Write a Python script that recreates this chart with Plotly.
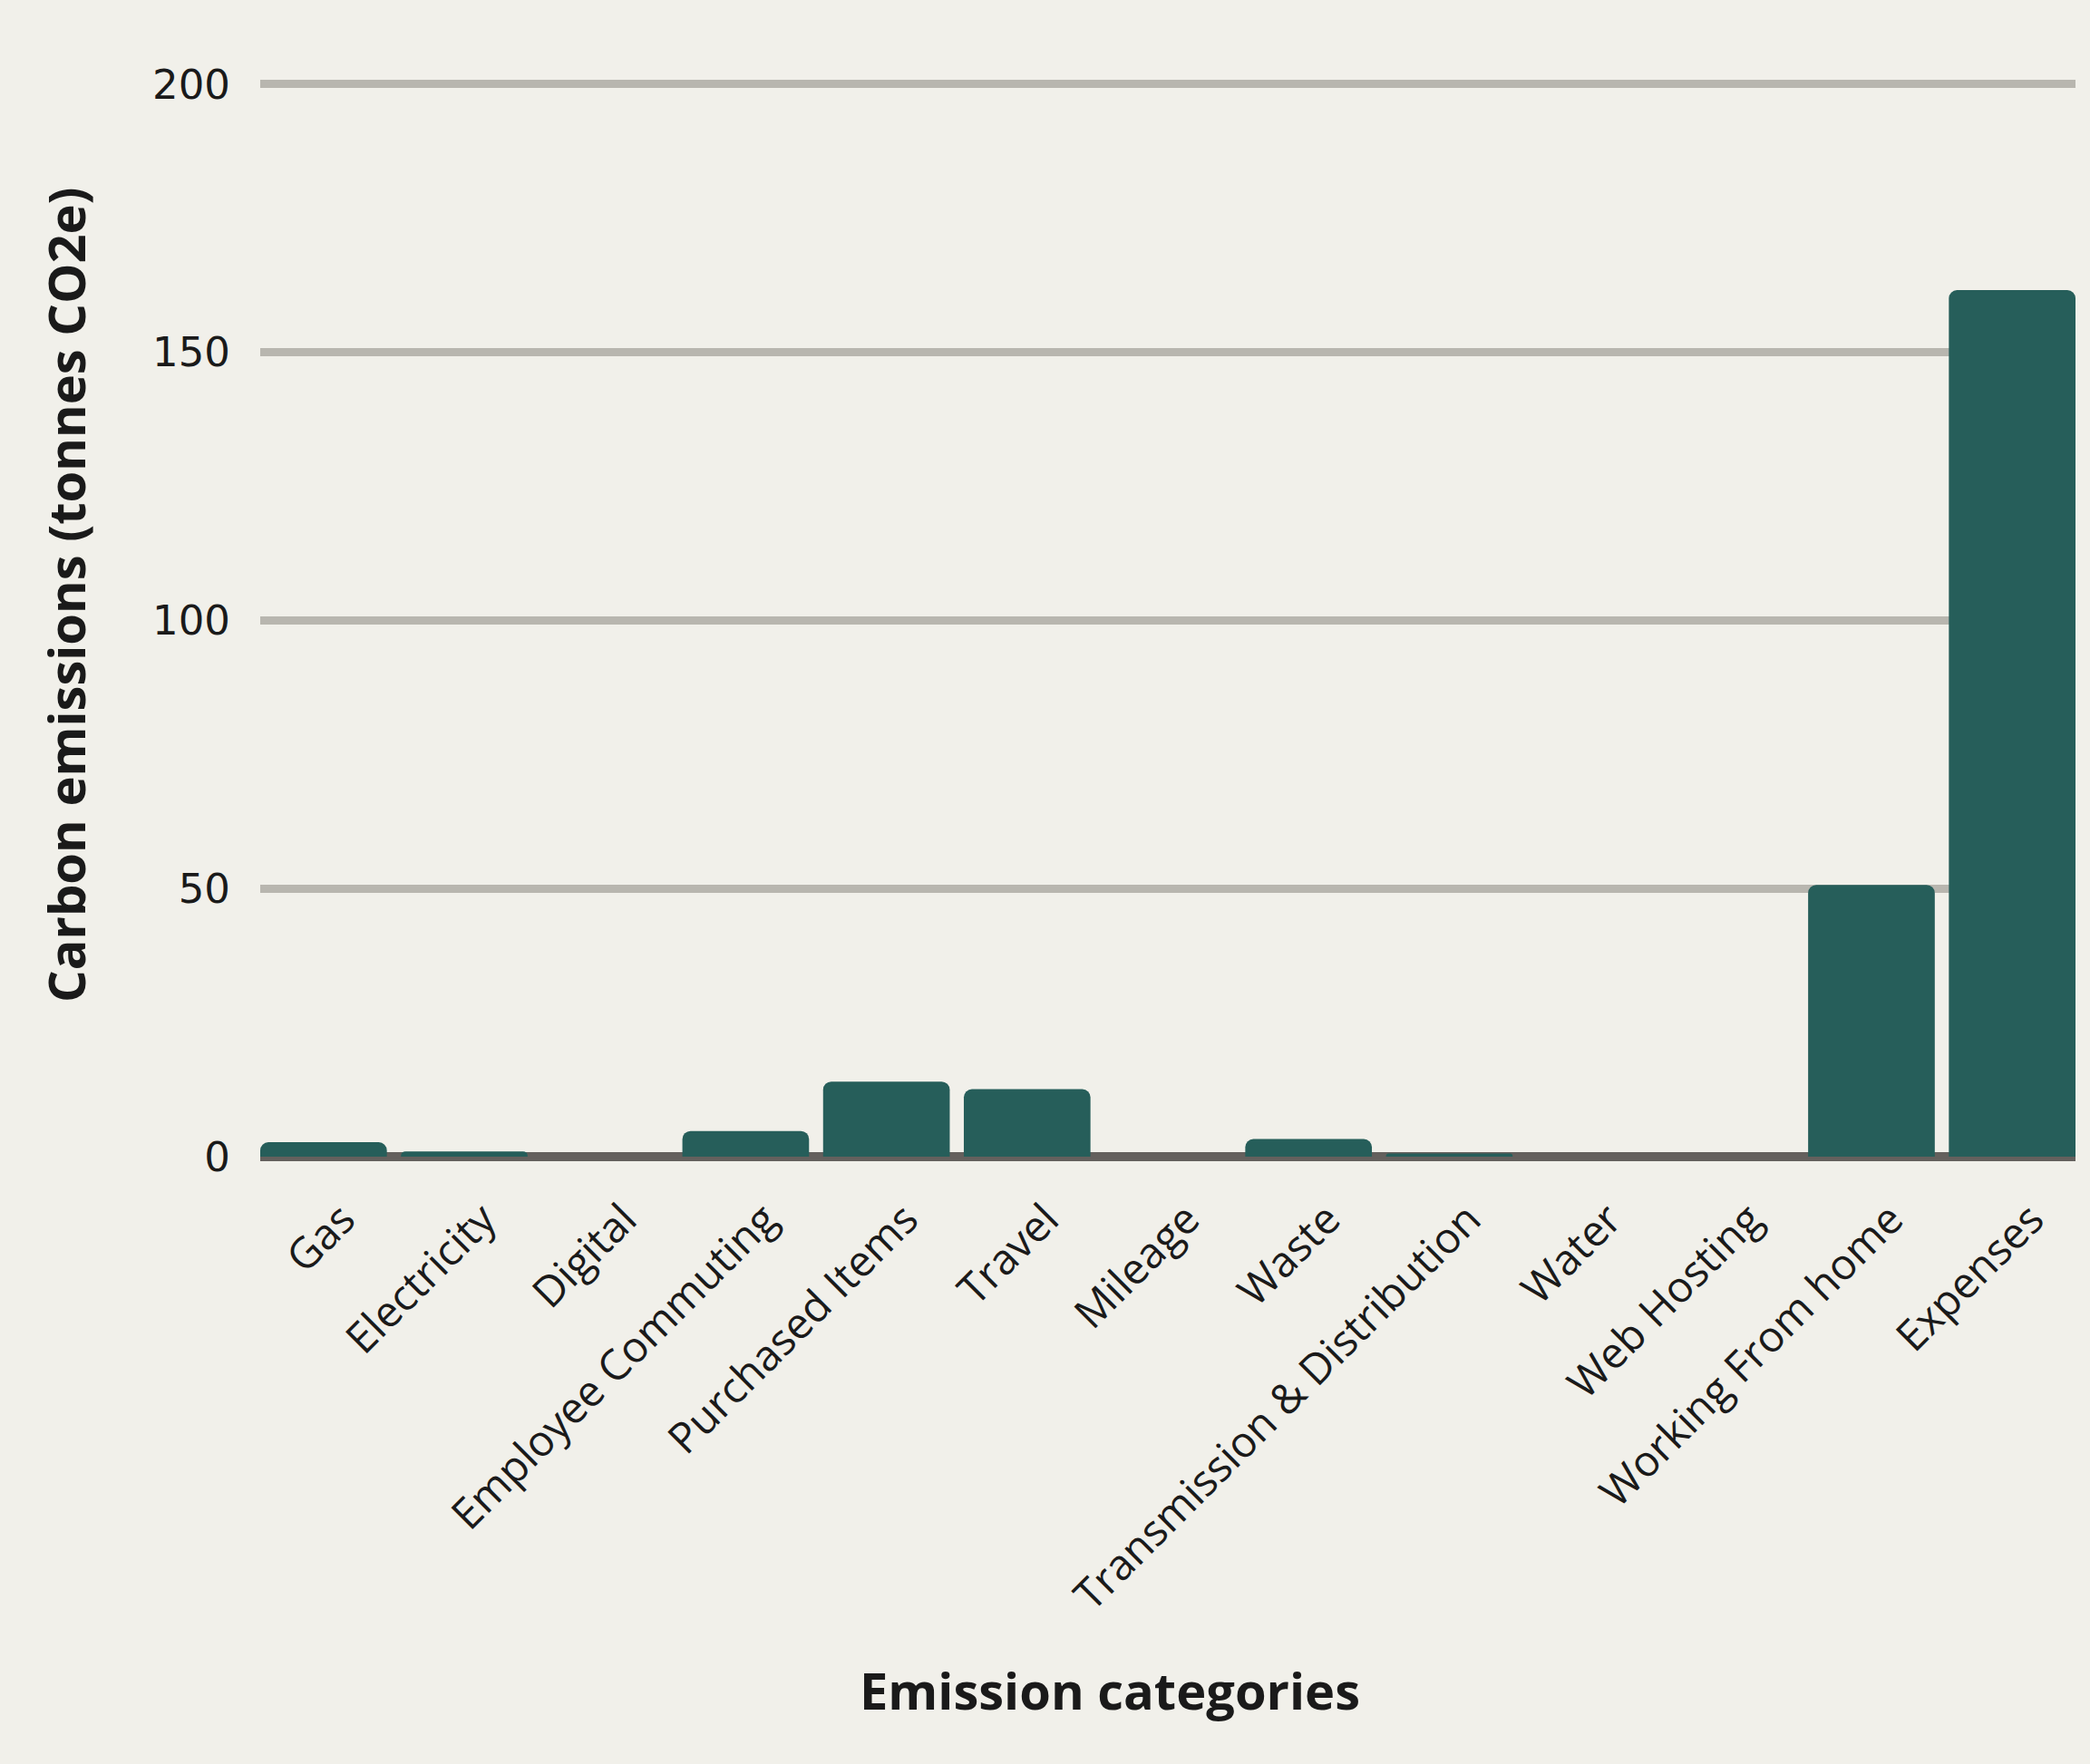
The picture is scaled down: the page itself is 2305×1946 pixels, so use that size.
import plotly.graph_objects as go

# Emission categories and their footprint (tonnes CO2e)
categories = [
    "Gas", "Electricity", "Digital", "Employee Commuting", "Purchased Items",
    "Travel", "Mileage", "Waste", "Transmission & Distribution", "Water",
    "Web Hosting", "Working From home", "Expenses",
]
emissions = [2.7, 1.0, 0, 4.8, 14.0, 12.6, 0, 3.3, 0.6, 0, 0, 50.7, 161.6]
y_ticks = [0, 50, 100, 150, 200]

BG = "#F1F0EA"
BAR = "#265E5A"
GRID = "#B8B6AF"
ZERO = "#64605D"
TEXT = "#1A1A1A"
FONT = "Open Sans"

W, H = 2305, 1946
L, R, T, B = 287, 16, 90, 667

fig = go.Figure(
    go.Bar(
        x=categories,
        y=emissions,
        marker=dict(color=BAR, cornerradius=9, line=dict(width=0)),
        hoverinfo="x+y",
    )
)

fig.update_layout(
    width=W,
    height=H,
    paper_bgcolor=BG,
    plot_bgcolor=BG,
    margin=dict(l=L, r=R, t=T, b=B, autoexpand=False),
    bargap=0.1,
    showlegend=False,
    font=dict(family=FONT, color=TEXT, size=44),
)

fig.update_xaxes(
    type="category",
    range=[-0.45, len(categories) - 0.55],
    tickangle=-45,
    tickfont=dict(size=47, color=TEXT),
    ticklabelstandoff=28,
    ticklabelshift=21,
    showgrid=False,
    showline=False,
    ticks="",
    automargin=False,
)

fig.update_yaxes(
    range=[-0.5, 200.5],
    tickvals=y_ticks,
    tickfont=dict(family="DejaVu Sans", size=45, color=TEXT),
    ticklabelstandoff=32,
    showgrid=True,
    gridcolor=GRID,
    gridwidth=9,
    zeroline=True,
    zerolinecolor=ZERO,
    zerolinewidth=10,
    showline=False,
    ticks="",
    automargin=False,
)

plot_h = H - T - B
plot_w = W - L - R
bottom_px = H - B

# Axis titles placed as annotations for precise positioning
fig.add_annotation(
    text="<b>Emission categories</b>",
    xref="paper", yref="paper",
    x=(1224 - L) / plot_w, y=-(1864 - bottom_px) / plot_h,
    showarrow=False,
    font=dict(family=FONT, size=56, color=TEXT),
    xanchor="center", yanchor="middle",
)
fig.add_annotation(
    text="<b>Carbon emissions (tonnes CO2e)</b>",
    xref="paper", yref="paper",
    x=(72 - L) / plot_w, y=(bottom_px - 656) / plot_h,
    showarrow=False,
    textangle=-90,
    font=dict(family=FONT, size=56, color=TEXT),
    xanchor="center", yanchor="middle",
)

fig.write_html("out.html")
